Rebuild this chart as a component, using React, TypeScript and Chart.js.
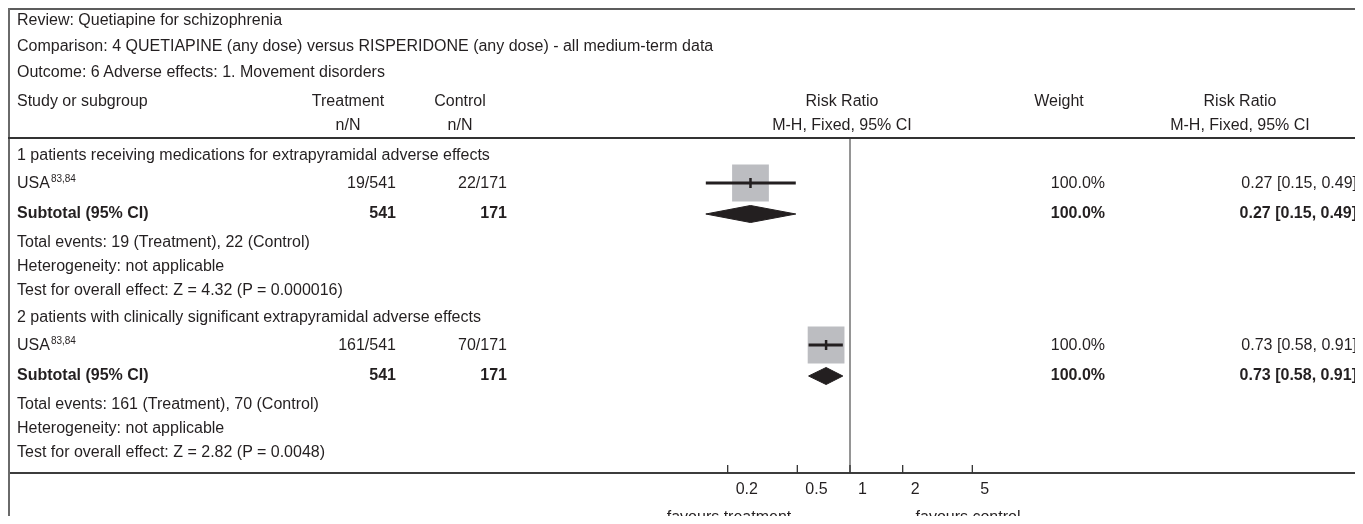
import React, { useEffect, useRef } from 'react';
import { Chart, registerables } from 'chart.js';

Chart.register(...registerables);

// ---- review data -----------------------------------------------------------
const REVIEW_TITLE = 'Review: Quetiapine for schizophrenia';
const COMPARISON = 'Comparison: 4 QUETIAPINE (any dose) versus RISPERIDONE (any dose) - all medium-term data';
const OUTCOME = 'Outcome: 6 Adverse effects: 1. Movement disorders';

const SUBGROUPS = [
  '1 patients receiving medications for extrapyramidal adverse effects',
  '2 patients with clinically significant extrapyramidal adverse effects',
];
const STUDY_NAMES = ['USA', 'USA'];
const STUDY_REFS = ['83,84', '83,84'];
const TREATMENT_EVENTS = [19, 161];
const TREATMENT_TOTAL = [541, 541];
const CONTROL_EVENTS = [22, 70];
const CONTROL_TOTAL = [171, 171];
const STUDY_WEIGHT = [100, 100];
const STUDY_RR = [0.27, 0.73];
const STUDY_LOW = [0.15, 0.58];
const STUDY_HIGH = [0.49, 0.91];
const SUBTOTAL_WEIGHT = [100, 100];
const SUBTOTAL_RR = [0.27, 0.73];
const SUBTOTAL_LOW = [0.15, 0.58];
const SUBTOTAL_HIGH = [0.49, 0.91];
const HETEROGENEITY = ['not applicable', 'not applicable'];
const Z_VALUES = ['4.32', '2.82'];
const P_VALUES = ['0.000016', '0.0048'];

const AXIS_TICKS = [0.2, 0.5, 1, 2, 5];
const AXIS_LABELS = ['0.2', '0.5', '1', '2', '5'];
const NO_EFFECT = 1;

// ---- layout (pixels inside the figure box) ---------------------------------
const W = 1355;
const H = 516;
const FONT = "'Liberation Sans', Arial, Helvetica, sans-serif";
const INK = '#231f20';
const SQUARE_FILL = '#bcbdc1';

const HEADER_RULE_Y = 130;
const AXIS_Y = 465;
const GROUP_TOP = [147, 309];
const ROW = { header: 0, study: 28, subtotal: 58, total: 87, het: 111, test: 135 };
const DIAMOND_HALF = 8.5;
const SQUARE_RADIUS = 26;

const COL = {
  left: 9,
  treatHead: 340,
  treatRight: 388,
  ctrlHead: 452,
  ctrlRight: 499,
  plotHead: 834,
  weightHead: 1051,
  weightRight: 1097,
  rrHead: 1232,
  rrRight: 1349,
};

// log scale: 0.01 .. 100 spread over 700 px, centred on the line of no effect
const PLOT_LEFT = 492;
const PLOT_RIGHT = 1192;

const fmt = (v: number) => v.toFixed(2);
const ciText = (rr: number, lo: number, hi: number) => `${fmt(rr)} [${fmt(lo)}, ${fmt(hi)}]`;

type Align = 'left' | 'right' | 'center';

function Txt({ x, y, align = 'left', bold = false, children }: {
  x: number; y: number; align?: Align; bold?: boolean; children: React.ReactNode;
}) {
  const box = 760;
  const left = align === 'left' ? x : align === 'right' ? x - box : x - box / 2;
  return (
    <div
      style={{
        position: 'absolute',
        left,
        top: y - 10,
        width: box,
        height: 20,
        lineHeight: '20px',
        textAlign: align,
        fontWeight: bold ? 700 : 400,
        whiteSpace: 'nowrap',
      }}
    >
      {children}
    </div>
  );
}

const forestFrame = {
  id: 'forestFrame',
  beforeDatasetsDraw(chart: any) {
    const { ctx, chartArea, scales } = chart;
    const x = scales.x;
    const y = scales.y;
    const bottom = chartArea.bottom;
    ctx.save();
    // line of no effect
    const x1 = x.getPixelForValue(NO_EFFECT);
    ctx.strokeStyle = '#8a8a8a';
    ctx.lineWidth = 1.8;
    ctx.beginPath();
    ctx.moveTo(x1, y.getPixelForValue(HEADER_RULE_Y));
    ctx.lineTo(x1, bottom);
    ctx.stroke();
    // axis rule across the table
    ctx.strokeStyle = '#3c3c3c';
    ctx.lineWidth = 2;
    ctx.beginPath();
    ctx.moveTo(0, bottom);
    ctx.lineTo(chart.width, bottom);
    ctx.stroke();
    // tick marks pointing up
    ctx.strokeStyle = '#333';
    ctx.lineWidth = 1.3;
    ctx.beginPath();
    x.ticks.forEach((t: any) => {
      const px = x.getPixelForValue(t.value);
      ctx.moveTo(px, bottom);
      ctx.lineTo(px, bottom - 8);
    });
    ctx.stroke();
    ctx.restore();
  },
};

function ForestCanvas() {
  const ref = useRef<HTMLCanvasElement | null>(null);

  useEffect(() => {
    if (!ref.current) return;
    const studyY = GROUP_TOP.map((g) => g + ROW.study);
    const subY = GROUP_TOP.map((g) => g + ROW.subtotal + 1);

    const datasets: any[] = [];

    // confidence interval whiskers
    STUDY_RR.forEach((_, i) => {
      datasets.push({
        type: 'line',
        data: [
          { x: STUDY_LOW[i], y: studyY[i] },
          { x: STUDY_HIGH[i], y: studyY[i] },
        ],
        borderColor: INK,
        borderWidth: 3,
        borderCapStyle: 'butt',
        pointRadius: 0,
        fill: false,
        order: 2,
      });
    });

    // point estimates (vertical tick inside the square)
    datasets.push({
      type: 'scatter',
      data: STUDY_RR.map((v, i) => ({ x: v, y: studyY[i] })),
      pointStyle: 'line',
      rotation: 90,
      pointRadius: 5,
      borderColor: INK,
      borderWidth: 2.5,
      order: 1,
    });

    // weight squares
    datasets.push({
      type: 'scatter',
      data: STUDY_RR.map((v, i) => ({ x: v, y: studyY[i] })),
      pointStyle: 'rect',
      pointRadius: STUDY_WEIGHT.map((w) => SQUARE_RADIUS * Math.sqrt(w / 100)),
      backgroundColor: SQUARE_FILL,
      borderColor: SQUARE_FILL,
      borderWidth: 0,
      order: 3,
    });

    // pooled diamonds
    SUBTOTAL_RR.forEach((v, i) => {
      const yc = subY[i];
      datasets.push({
        type: 'line',
        data: [
          { x: SUBTOTAL_LOW[i], y: yc },
          { x: v, y: yc - DIAMOND_HALF },
          { x: SUBTOTAL_HIGH[i], y: yc },
          { x: v, y: yc + DIAMOND_HALF },
          { x: SUBTOTAL_LOW[i], y: yc },
        ],
        borderColor: INK,
        backgroundColor: INK,
        borderWidth: 1,
        pointRadius: 0,
        tension: 0,
        fill: 'shape',
        order: 1,
      });
    });

    const chart = new Chart(ref.current, {
      type: 'scatter',
      data: { datasets },
      plugins: [forestFrame],
      options: {
        animation: false,
        responsive: true,
        maintainAspectRatio: false,
        events: [],
        layout: {
          autoPadding: false,
          padding: { left: PLOT_LEFT, right: W - PLOT_RIGHT, top: 0, bottom: 0 },
        },
        plugins: { legend: { display: false }, tooltip: { enabled: false } },
        scales: {
          x: {
            type: 'logarithmic',
            min: 0.01,
            max: 100,
            afterBuildTicks: (scale: any) => {
              scale.ticks = AXIS_TICKS.map((v) => ({ value: v }));
            },
            afterFit: (scale: any) => {
              scale.height = H - AXIS_Y;
            },
            grid: { display: false, drawTicks: false },
            border: { display: false },
            ticks: {
              autoSkip: false,
              maxRotation: 0,
              minRotation: 0,
              align: 'start',
              labelOffset: 8,
              padding: 7,
              color: INK,
              font: { family: FONT, size: 16 },
              callback: (value: any) => {
                const idx = AXIS_TICKS.indexOf(Number(value));
                return idx >= 0 ? AXIS_LABELS[idx] : '';
              },
            },
          },
          y: {
            type: 'linear',
            display: false,
            min: 0,
            max: AXIS_Y,
            reverse: true,
          },
        },
      } as any,
    });
    return () => chart.destroy();
  }, []);

  return (
    <div style={{ position: 'absolute', left: 0, top: 0, width: W, height: H }}>
      <canvas ref={ref} />
    </div>
  );
}

function Rule({ x = 0, y, w = W, h = 2, color }: { x?: number; y: number; w?: number; h?: number; color: string }) {
  return <div style={{ position: 'absolute', left: x, top: y, width: w, height: h, background: color }} />;
}

export default function App() {
  useEffect(() => {
    document.documentElement.style.overflow = 'hidden';
  }, []);

  const sup = (s: string) => (
    <span style={{ fontSize: 10, position: 'relative', top: -6, marginLeft: 1 }}>{s}</span>
  );

  return (
    <div
      style={{
        position: 'relative',
        width: W,
        height: H,
        marginBottom: -8,
        overflow: 'hidden',
        fontFamily: FONT,
        fontSize: 16,
        color: INK,
        background: '#fff',
      }}
    >
      <ForestCanvas />
      <Rule y={0} color="#5c5c5c" />
      <Rule x={0} y={0} w={2} h={H} color="#6a6a6a" />
      <Rule y={HEADER_RULE_Y - 1} color="#333" />

      <Txt x={COL.left} y={12}>{REVIEW_TITLE}</Txt>
      <Txt x={COL.left} y={38}>{COMPARISON}</Txt>
      <Txt x={COL.left} y={64}>{OUTCOME}</Txt>

      <Txt x={COL.left} y={93}>Study or subgroup</Txt>
      <Txt x={COL.treatHead} y={93} align="center">Treatment</Txt>
      <Txt x={COL.ctrlHead} y={93} align="center">Control</Txt>
      <Txt x={COL.plotHead} y={93} align="center">Risk Ratio</Txt>
      <Txt x={COL.weightHead} y={93} align="center">Weight</Txt>
      <Txt x={COL.rrHead} y={93} align="center">Risk Ratio</Txt>
      <Txt x={COL.treatHead} y={117} align="center">n/N</Txt>
      <Txt x={COL.ctrlHead} y={117} align="center">n/N</Txt>
      <Txt x={COL.plotHead} y={117} align="center">M-H, Fixed, 95% CI</Txt>
      <Txt x={COL.rrHead} y={117} align="center">M-H, Fixed, 95% CI</Txt>

      {SUBGROUPS.map((title, i) => {
        const g = GROUP_TOP[i];
        return (
          <React.Fragment key={i}>
            <Txt x={COL.left} y={g + ROW.header}>{title}</Txt>
            <Txt x={COL.left} y={g + ROW.study}>
              {STUDY_NAMES[i]}
              {sup(STUDY_REFS[i])}
            </Txt>
            <Txt x={COL.treatRight} y={g + ROW.study} align="right">
              {`${TREATMENT_EVENTS[i]}/${TREATMENT_TOTAL[i]}`}
            </Txt>
            <Txt x={COL.ctrlRight} y={g + ROW.study} align="right">
              {`${CONTROL_EVENTS[i]}/${CONTROL_TOTAL[i]}`}
            </Txt>
            <Txt x={COL.weightRight} y={g + ROW.study} align="right">{`${STUDY_WEIGHT[i].toFixed(1)}%`}</Txt>
            <Txt x={COL.rrRight} y={g + ROW.study} align="right">
              {ciText(STUDY_RR[i], STUDY_LOW[i], STUDY_HIGH[i])}
            </Txt>

            <Txt x={COL.left} y={g + ROW.subtotal} bold>Subtotal (95% CI)</Txt>
            <Txt x={COL.treatRight} y={g + ROW.subtotal} align="right" bold>{String(TREATMENT_TOTAL[i])}</Txt>
            <Txt x={COL.ctrlRight} y={g + ROW.subtotal} align="right" bold>{String(CONTROL_TOTAL[i])}</Txt>
            <Txt x={COL.weightRight} y={g + ROW.subtotal} align="right" bold>{`${SUBTOTAL_WEIGHT[i].toFixed(1)}%`}</Txt>
            <Txt x={COL.rrRight} y={g + ROW.subtotal} align="right" bold>
              {ciText(SUBTOTAL_RR[i], SUBTOTAL_LOW[i], SUBTOTAL_HIGH[i])}
            </Txt>

            <Txt x={COL.left} y={g + ROW.total}>
              {`Total events: ${TREATMENT_EVENTS[i]} (Treatment), ${CONTROL_EVENTS[i]} (Control)`}
            </Txt>
            <Txt x={COL.left} y={g + ROW.het}>{`Heterogeneity: ${HETEROGENEITY[i]}`}</Txt>
            <Txt x={COL.left} y={g + ROW.test}>
              {`Test for overall effect: Z = ${Z_VALUES[i]} (P = ${P_VALUES[i]})`}
            </Txt>
          </React.Fragment>
        );
      })}

      <Txt x={721} y={509} align="center">favours treatment</Txt>
      <Txt x={960} y={509} align="center">favours control</Txt>
    </div>
  );
}
